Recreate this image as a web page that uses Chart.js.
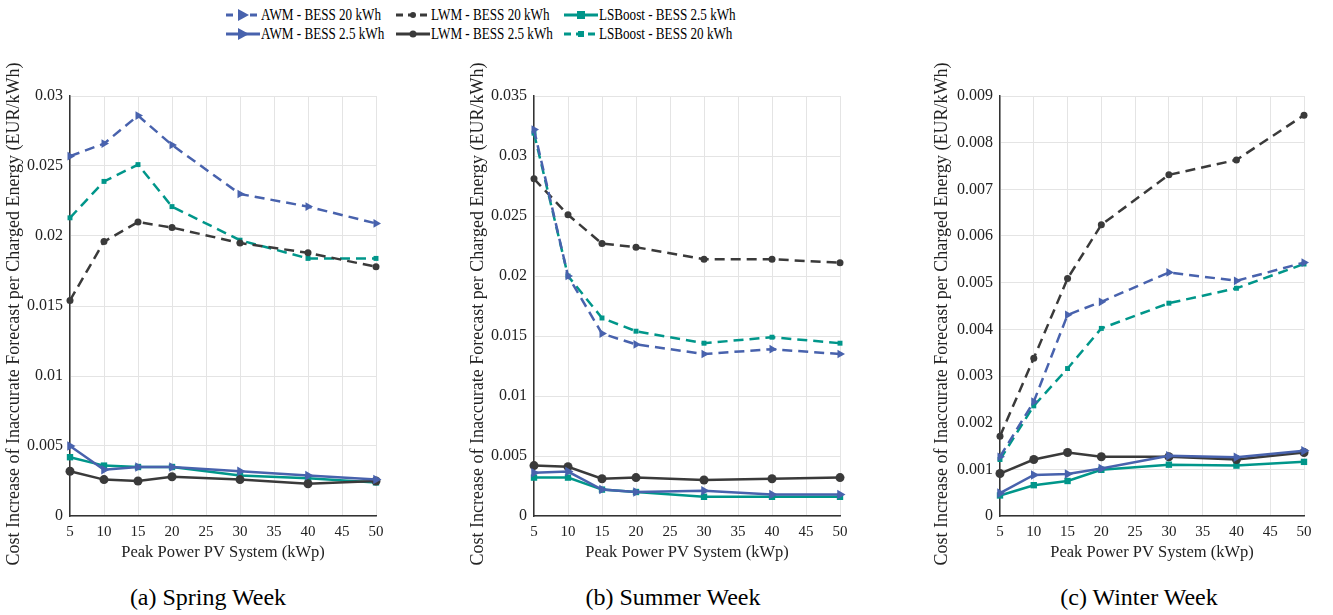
<!DOCTYPE html>
<html>
<head>
<meta charset="utf-8">
<script src="https://cdn.jsdelivr.net/npm/chart.js@4.4.1/dist/chart.umd.min.js"></script>
<style>
body { margin:0; background:#fff; width:1333px; height:615px; position:relative; overflow:hidden; font-family:"Liberation Serif", Tinos, "DejaVu Serif", serif; color:#000; }
canvas { position:absolute; }
.leg { position:absolute; height:20px; display:flex; align-items:center; font-size:16px; white-space:nowrap; }
.leg svg { flex:none; margin-right:1px; }
.leg span { display:inline-block; transform:scaleX(0.82); transform-origin:left center; }
.cap { position:absolute; top:582px; width:300px; text-align:center; font-size:24px; line-height:30px; }
</style>
</head>
<body>
<div id="legend"></div>
<canvas id="spring" width="400" height="530" style="left:0;top:50px"></canvas>
<canvas id="summer" width="400" height="530" style="left:464px;top:50px"></canvas>
<canvas id="winter" width="400" height="530" style="left:928px;top:50px"></canvas>
<div class="cap" style="left:58px">(a) Spring Week</div>
<div class="cap" style="left:523px">(b) Summer Week</div>
<div class="cap" style="left:989px">(c) Winter Week</div>
<script>
// x values (kWp) and tick values
const peakPower = [5, 10, 15, 20, 30, 40, 50];
const xTickValues = [5, 10, 15, 20, 25, 30, 35, 40, 45, 50];

// Spring week
const springAwm20 = [0.0257, 0.0266, 0.0286, 0.0265, 0.0230, 0.0221, 0.0209];
const springAwm25 = [0.0050, 0.0033, 0.0035, 0.0035, 0.0032, 0.0029, 0.0026];
const springLwm20 = [0.0154, 0.0196, 0.0210, 0.0206, 0.0195, 0.0188, 0.0178];
const springLwm25 = [0.0032, 0.0026, 0.0025, 0.0028, 0.0026, 0.0023, 0.0025];
const springLsb25 = [0.0042, 0.0036, 0.0035, 0.0035, 0.0029, 0.0027, 0.0024];
const springLsb20 = [0.0213, 0.0239, 0.0251, 0.0221, 0.0197, 0.0184, 0.0184];
const springYTicks = [0, 0.005, 0.01, 0.015, 0.02, 0.025, 0.03];

// Summer week
const summerAwm20 = [0.0322, 0.0200, 0.0152, 0.0143, 0.0135, 0.0139, 0.0135];
const summerAwm25 = [0.0036, 0.0037, 0.0022, 0.0020, 0.0021, 0.0018, 0.0018];
const summerLwm20 = [0.0281, 0.0251, 0.0227, 0.0224, 0.0214, 0.0214, 0.0211];
const summerLwm25 = [0.0042, 0.0041, 0.0031, 0.0032, 0.0030, 0.0031, 0.0032];
const summerLsb25 = [0.0032, 0.0032, 0.0022, 0.0020, 0.0016, 0.0016, 0.0016];
const summerLsb20 = [0.0319, 0.0200, 0.0165, 0.0154, 0.0144, 0.0149, 0.0144];
const summerYTicks = [0, 0.005, 0.01, 0.015, 0.02, 0.025, 0.03, 0.035];

// Winter week
const winterAwm20 = [0.00127, 0.00245, 0.00431, 0.00459, 0.00522, 0.00504, 0.00543];
const winterAwm25 = [0.00049, 0.00088, 0.00090, 0.00102, 0.00129, 0.00126, 0.00140];
const winterLwm20 = [0.00171, 0.00338, 0.00509, 0.00624, 0.00731, 0.00763, 0.00859];
const winterLwm25 = [0.00091, 0.00121, 0.00136, 0.00127, 0.00127, 0.00121, 0.00136];
const winterLsb25 = [0.00044, 0.00066, 0.00075, 0.00099, 0.00110, 0.00108, 0.00116];
const winterLsb20 = [0.00121, 0.00236, 0.00316, 0.00402, 0.00456, 0.00488, 0.00540];
const winterYTicks = [0, 0.001, 0.002, 0.003, 0.004, 0.005, 0.006, 0.007, 0.008, 0.009];

const BLUE = '#4862ad';
const GRAY = '#3a3a3a';
const TEAL = '#00968a';
const FONT = '"Liberation Serif", Tinos, "DejaVu Serif", serif';
const DASH = [10, 6];

// series styles, in legend order
const seriesStyles = [
    { label: 'AWM - BESS 20 kWh', color: BLUE, dashed: true, marker: 'triangle', size: 5 },
    { label: 'AWM - BESS 2.5 kWh', color: BLUE, dashed: false, marker: 'triangle', size: 5.5 },
    { label: 'LWM - BESS 20 kWh', color: GRAY, dashed: true, marker: 'circle', size: 3.5 },
    { label: 'LWM - BESS 2.5 kWh', color: GRAY, dashed: false, marker: 'circle', size: 4.5 },
    { label: 'LSBoost - BESS 2.5 kWh', color: TEAL, dashed: false, marker: 'rect', size: 4.5 },
    { label: 'LSBoost - BESS 20 kWh', color: TEAL, dashed: true, marker: 'rect', size: 3.5 }
];

// Legend (HTML, three columns x two rows)
const legendPos = [[226, 5], [226, 24], [396, 5], [396, 24], [564, 5], [564, 24]];
function markerSvg(s) {
    if (s.marker === 'triangle') return `<polygon points="12,4 23,10 12,16" fill="${s.color}"/>`;
    if (s.marker === 'circle') return `<circle cx="17" cy="10" r="${s.dashed ? 3 : 3.5}" fill="${s.color}"/>`;
    const h = s.dashed ? 3 : 4;
    return `<rect x="${17 - h}" y="${10 - h}" width="${2 * h}" height="${2 * h}" fill="${s.color}"/>`;
}
const legendEl = document.getElementById('legend');
seriesStyles.forEach((s, i) => {
    const div = document.createElement('div');
    div.className = 'leg';
    div.style.left = legendPos[i][0] + 'px';
    div.style.top = legendPos[i][1] + 'px';
    div.innerHTML = `<svg width="34" height="20"><line x1="0" y1="10" x2="34" y2="10" stroke="${s.color}" stroke-width="3" ${s.dashed ? 'stroke-dasharray="7,5"' : ''}/>${markerSvg(s)}</svg><span>${s.label}</span>`;
    legendEl.appendChild(div);
});

// rotated y-axis title drawn on the canvas so it is not squeezed to the plot height
const yTitlePlugin = {
    id: 'yTitle',
    afterDraw(chart) {
        const { ctx, chartArea } = chart;
        ctx.save();
        ctx.translate(14, (chartArea.top + chartArea.bottom) / 2 + 8);
        ctx.rotate(-Math.PI / 2);
        ctx.font = '18px ' + FONT;
        ctx.fillStyle = '#222';
        ctx.textAlign = 'center';
        ctx.textBaseline = 'middle';
        ctx.fillText('Cost Increase of Inaccurate Forecast per Charged Energy (EUR/kWh)', 0, 0);
        ctx.restore();
    }
};

function makeChart(id, series, yTicks, yWidth) {
    const datasets = seriesStyles.map((s, i) => ({
        label: s.label,
        data: peakPower.map((x, j) => ({ x: x, y: series[i][j] })),
        borderColor: s.color,
        backgroundColor: s.color,
        borderWidth: 2.5,
        borderDash: s.dashed ? DASH : [],
        pointStyle: s.marker,
        pointRotation: s.marker === 'triangle' ? 90 : 0,
        pointRadius: s.size,
        pointBorderWidth: 0,
        tension: 0,
        clip: false
    }));
    return new Chart(document.getElementById(id), {
        type: 'line',
        data: { datasets: datasets },
        plugins: [yTitlePlugin],
        options: {
            responsive: false,
            animation: false,
            devicePixelRatio: 1,
            layout: { padding: { top: 46, right: 24, left: 0, bottom: 0 } },
            plugins: { legend: { display: false }, tooltip: { enabled: false } },
            scales: {
                x: {
                    type: 'linear',
                    min: 5,
                    max: 50,
                    afterBuildTicks: axis => { axis.ticks = xTickValues.map(v => ({ value: v })); },
                    afterFit: scale => { scale.height = 64; },
                    grid: { color: '#e4e4e4', drawTicks: false },
                    border: { color: '#333', width: 1.5 },
                    ticks: { font: { family: FONT, size: 15 }, color: '#222', padding: 7, maxRotation: 0 },
                    title: {
                        display: true,
                        text: 'Peak Power PV System (kWp)',
                        font: { family: FONT, size: 16.5 },
                        color: '#222',
                        padding: { top: 0, bottom: 17 }
                    }
                },
                y: {
                    type: 'linear',
                    min: yTicks[0],
                    max: yTicks[yTicks.length - 1],
                    afterBuildTicks: axis => { axis.ticks = yTicks.map(v => ({ value: v })); },
                    afterFit: scale => { scale.width = yWidth; },
                    grid: { color: '#e4e4e4', drawTicks: false },
                    border: { color: '#333', width: 1.5 },
                    ticks: {
                        font: { family: FONT, size: 16 },
                        color: '#222',
                        padding: 7,
                        callback: v => String(+v.toFixed(4))
                    }
                }
            }
        }
    });
}

makeChart('spring', [springAwm20, springAwm25, springLwm20, springLwm25, springLsb25, springLsb20], springYTicks, 70);
makeChart('summer', [summerAwm20, summerAwm25, summerLwm20, summerLwm25, summerLsb25, summerLsb20], summerYTicks, 70);
makeChart('winter', [winterAwm20, winterAwm25, winterLwm20, winterLwm25, winterLsb25, winterLsb20], winterYTicks, 72);
</script>
</body>
</html>
